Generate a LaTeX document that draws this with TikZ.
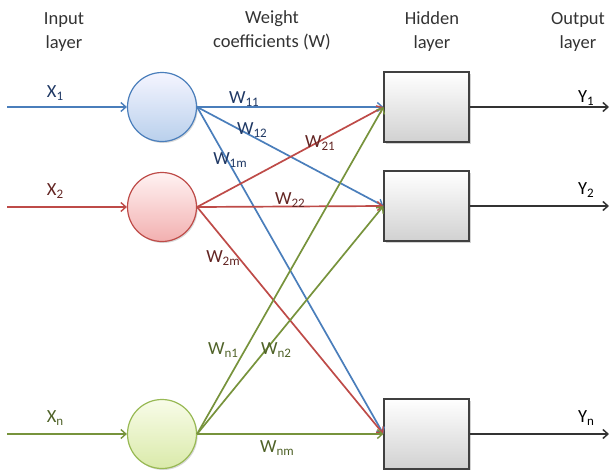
\documentclass[tikz,border=0pt]{standalone}
\usepackage{fontspec}
\setmainfont{Carlito}
\usetikzlibrary{arrows.meta,shadows}
\definecolor{lblue}{RGB}{74,126,187}
\definecolor{lred}{RGB}{190,75,72}
\definecolor{lgreen}{RGB}{119,147,60}
\definecolor{tblue}{RGB}{31,56,100}
\definecolor{tred}{RGB}{99,37,35}
\definecolor{tgreen}{RGB}{79,98,40}
\newcommand\lsub[1]{\raisebox{-3.5pt}{\fontsize{13}{13}\selectfont #1}}
\tikzset{
  txt/.style={font=\fontsize{18.5}{24}\selectfont, text=black!80, align=center, inner sep=0pt},
  lbl/.style={font=\fontsize{18.5}{22}\selectfont, inner sep=0pt},
  neuron/.style={circle, minimum size=69pt, inner sep=0pt, line width=1.2pt,
    drop shadow={opacity=0.3, shadow xshift=1.2pt, shadow yshift=-1.5pt}},
  hbox/.style={rectangle, minimum width=85pt, minimum height=70pt, inner sep=0pt,
    draw=black!75, line width=1.2pt, top color=white, bottom color=black!18,
    drop shadow={opacity=0.35, shadow xshift=1.5pt, shadow yshift=-1.5pt}},
  conn/.style={line width=1.7pt, -{Straight Barb[length=5pt,width=9pt,line width=1.4pt]}},
  outarr/.style={line width=1.8pt, draw=black!80, -{Straight Barb[length=5pt,width=9pt,line width=1.5pt]}}
}
\begin{document}
\begin{tikzpicture}[x=1pt,y=-1pt]
\useasboundingbox (0,0) rectangle (610,469);
% headers
\node[txt] (hin) at (64,32) {Input\\layer};
\node[txt] (hw) at (272,30) {Weight\\coefficients (W)};
\node[txt] (hhid) at (432,32) {Hidden\\layer};
\node[txt] (hout) at (578,32) {Output\\layer};
% neurons
\node[neuron, draw=lblue, top color=blue!4, bottom color={rgb,255:red,185;green,208;blue,236}] (x1) at (162,107) {};
\node[neuron, draw=lred, top color=red!5, bottom color={rgb,255:red,242;green,176;blue,176}] (x2) at (162,207) {};
\node[neuron, draw={rgb,255:red,152;green,185;blue,84}, top color={rgb,255:red,248;green,252;blue,232}, bottom color={rgb,255:red,218;green,234;blue,170}] (xn) at (162,434) {};
% hidden boxes
\node[hbox] (h1) at (426.5,107) {};
\node[hbox] (h2) at (426.5,206) {};
\node[hbox] (h3) at (426.5,434) {};
% input arrows
\coordinate (i1) at (7,107);
\coordinate (i2) at (7,207);
\coordinate (in) at (7,434);
\draw[conn, draw=lblue] (i1) -- (x1.west);
\draw[conn, draw=lred] (i2) -- (x2.west);
\draw[conn, draw=lgreen] (in) -- (xn.west);
% weights
\draw[conn, draw=lblue] (x1.east) -- (h1.west);
\draw[conn, draw=lblue] (x1.east) -- (h2.west);
\draw[conn, draw=lblue] (x1.east) -- (h3.west);
\draw[conn, draw=lred] (x2.east) -- (h1.west);
\draw[conn, draw=lred] (x2.east) -- (h2.west);
\draw[conn, draw=lred] (x2.east) -- (h3.west);
\draw[conn, draw=lgreen] (xn.east) -- (h1.west);
\draw[conn, draw=lgreen] (xn.east) -- (h2.west);
\draw[conn, draw=lgreen] (xn.east) -- (h3.west);
% outputs
\coordinate (o1) at (609,107);
\coordinate (o2) at (609,206);
\coordinate (o3) at (609,434);
\draw[outarr] (h1.east) -- (o1);
\draw[outarr] (h2.east) -- (o2);
\draw[outarr] (h3.east) -- (o3);
% labels
\node[lbl, text=tblue] (lx1) at (55,93) {X\lsub{1}};
\node[lbl, text=tred] (lx2) at (55,191) {X\lsub{2}};
\node[lbl, text=tgreen] (lxn) at (55,418) {X\lsub{n}};
\node[lbl, text=black] (ly1) at (586,98) {Y\lsub{1}};
\node[lbl, text=black] (ly2) at (586,190) {Y\lsub{2}};
\node[lbl, text=black] (lyn) at (586,418) {Y\lsub{n}};
\node[lbl, text=tblue] (w11) at (244,99) {W\lsub{11}};
\node[lbl, text=tblue] (w12) at (252,130) {W\lsub{12}};
\node[lbl, text=tblue] (w1m) at (230,160) {W\lsub{1m}};
\node[lbl, text=tred] (w21) at (320,143) {W\lsub{21}};
\node[lbl, text=tred] (w22) at (290,200) {W\lsub{22}};
\node[lbl, text=tred] (w2m) at (223,258) {W\lsub{2m}};
\node[lbl, text=tgreen] (wn1) at (223,350) {W\lsub{n1}};
\node[lbl, text=tgreen] (wn2) at (276,350) {W\lsub{n2}};
\node[lbl, text=tgreen] (wnm) at (277,448) {W\lsub{nm}};
\end{tikzpicture}
\end{document}
